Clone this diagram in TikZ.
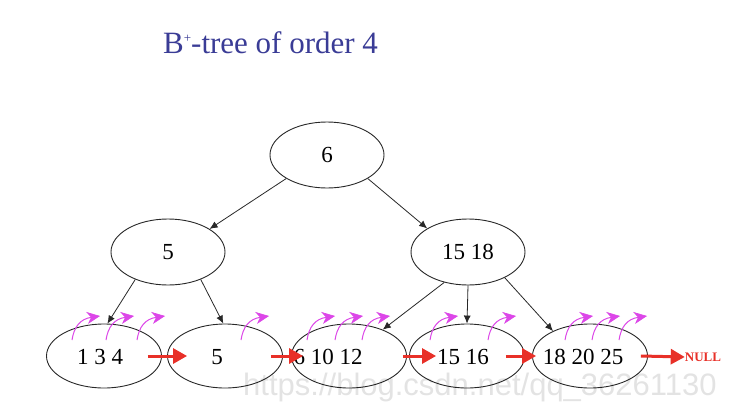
\documentclass[tikz,border=0pt]{standalone}
\usepackage{fontspec}
\setmainfont{Liberation Serif}
\newfontfamily\wmfont{Liberation Sans}
\usetikzlibrary{shapes.geometric,arrows.meta,calc}
\definecolor{titleblue}{RGB}{58,60,150}
\definecolor{ptrmag}{RGB}{220,70,232}
\definecolor{linkred}{RGB}{232,48,40}
\definecolor{edgegray}{RGB}{40,40,40}
\tikzset{
  treenode/.style={ellipse,draw=edgegray,line width=0.9pt,minimum width=114pt,minimum height=66pt,inner sep=0pt,font=\fontsize{23}{23}\selectfont},
  leafnode/.style={ellipse,draw=edgegray,line width=0.9pt,minimum width=115pt,minimum height=64pt,inner sep=0pt},
  leaftext/.style={inner sep=0pt,font=\fontsize{23}{23}\selectfont},
  treeedge/.style={draw=edgegray,line width=0.8pt,-{Latex[length=8pt,width=7pt]}},
  linkarrow/.style={draw=linkred,line width=3pt,-{Triangle[length=14pt,width=15pt]}},
  ptrline/.style={draw=ptrmag,line width=1pt,-{Stealth[length=13pt,width=12pt,inset=4pt,line width=0.6pt]}},
  ptr/.pic={\draw[ptrline] (0,0) .. controls (2,-13) and (8,-21) .. (28,-24);}
}
\begin{document}
\begin{tikzpicture}[x=1pt,y=-1pt]
\useasboundingbox[fill=white] (0,0) rectangle (744,418);
% title
\node[anchor=base west,inner sep=0pt,text=titleblue,font=\fontsize{31}{31}\selectfont] (title) at (163,53) {B\raisebox{11pt}{\fontsize{13}{13}\selectfont+}-tree of order 4};
% tree nodes
\node[treenode] (root) at (327,155) {6};
\node[treenode] (n5) at (168,252) {5};
\node[treenode] (n1518) at (468,252) {15 18};
% leaves
\node[leafnode] (l1) at (104,356) {};
\node[leafnode] (l2) at (225,356) {};
\node[leafnode] (l3) at (349,356) {};
\node[leafnode] (l4) at (467,356) {};
\node[leafnode] (l5) at (590,356) {};
% tree edges
\draw[treeedge] (root.210) -- (n5.29);
\draw[treeedge] (root.-30) -- (n1518.150);
\draw[treeedge] (n5.-140) -- (l1.84);
\draw[treeedge] (n5.-40) -- (l2.93);
\draw[treeedge] (n1518.-128) -- (l3.38);
\draw[treeedge] (n1518.-90) -- (l4.90);
\draw[treeedge] (n1518.-35) -- (l5.146);
% pointers
\foreach \x in {72,106,137,241,307,335,362,430,488,565,592,619}
  \pic at (\x,340) {ptr};
% leaf texts
\node[leaftext] (t1) at (100,357) {1 3 4};
\node[leaftext] (t2) at (217,357) {5};
\node[leaftext] (t3) at (328,357) {6 10 12};
\node[leaftext] (t4) at (463,357) {15 16};
\node[leaftext] (t5) at (583,357) {18 20 25};
\node[inner sep=0pt,text=linkred,font=\fontsize{13}{13}\selectfont\bfseries] (null) at (703,357) {NULL};
% leaf links
\draw[linkarrow] ($(l1.east)+(-14,0)$) -- ($(l2.west)+(20,0)$);
\draw[linkarrow] ($(l2.east)+(-12,0)$) -- ($(l3.west)+(12,0)$);
\draw[linkarrow] ($(l3.east)+(-4,0)$) -- ($(l4.west)+(27,0)$);
\draw[linkarrow] ($(l4.east)+(-19,0)$) -- ($(l5.west)+(4,0)$);
\draw[linkarrow] ($(l5.east)+(-7,0)$) -- (null.west);
% watermark
\node[anchor=west,inner sep=0pt,text=black,text opacity=0.11,font=\wmfont\fontsize{31}{31}\selectfont] (wm) at (243,387) {https://blog.csdn.net/qq\_36261130};
\end{tikzpicture}
\end{document}
